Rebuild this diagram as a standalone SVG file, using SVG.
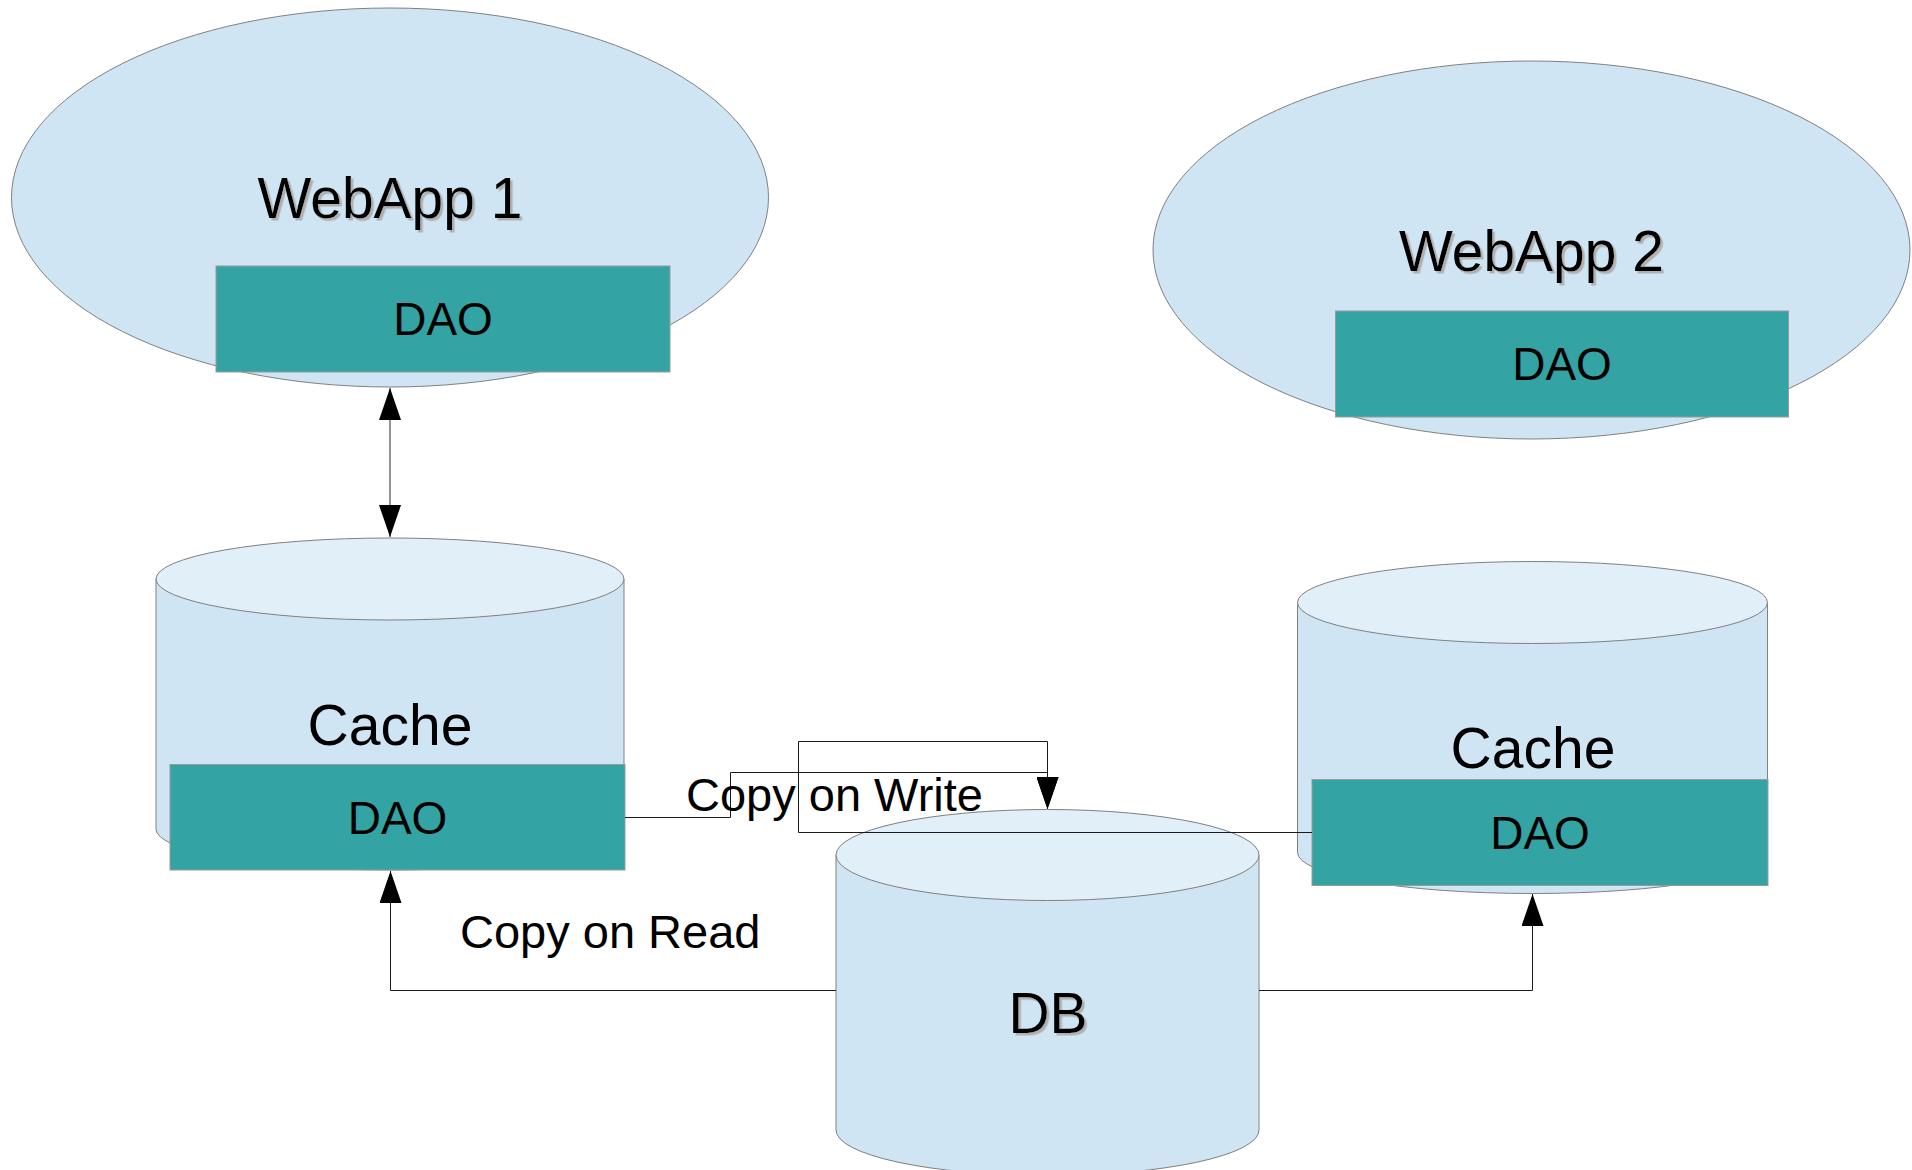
<svg xmlns="http://www.w3.org/2000/svg" width="1912" height="1170" viewBox="0 0 1912 1170">
  <defs>
    <style>
      .app { fill: #cfe5f3; stroke: #808080; stroke-width: 1; }
      .body { fill: #cfe5f3; stroke: #808080; stroke-width: 1; }
      .lid { fill: #e0eff8; stroke: #808080; stroke-width: 1; }
      .dao { fill: #33a3a3; stroke: #9a9a9a; stroke-width: 1; }
      .big { font-family: "Liberation Sans", Arial, sans-serif; font-size: 57px; fill: #000; text-anchor: middle; }
      .lbl { font-family: "Liberation Sans", Arial, sans-serif; font-size: 46px; fill: #000; text-anchor: middle; }
      .note { font-family: "Liberation Sans", Arial, sans-serif; font-size: 47px; fill: #000; }
      .wire { fill: none; stroke: #1a1a1a; stroke-width: 1; }
      .wire-grey { fill: none; stroke: #707070; stroke-width: 1.5; }
      .shadowed { filter: url(#shadow); }
    </style>
    <marker id="arrow" markerUnits="userSpaceOnUse" markerWidth="32" markerHeight="22" refX="32" refY="11" orient="auto-start-reverse">
      <path d="M0,0 L32,11 L0,22 z" fill="#000"/>
    </marker>
    <filter id="shadow" x="-10%" y="-10%" width="130%" height="130%">
      <feDropShadow dx="2.5" dy="2.5" stdDeviation="0.4" flood-color="#b0b0b0" flood-opacity="1"/>
    </filter>
  </defs>

  <rect width="1912" height="1170" fill="#ffffff"/>

  <!-- Web application 1 -->
  <g id="webapp1">
    <ellipse class="app" cx="390" cy="197.5" rx="378.5" ry="189.5"/>
    <text class="big shadowed" x="390" y="218">WebApp 1</text>
    <rect class="dao" x="216" y="266" width="454" height="106"/>
    <text class="lbl" x="443" y="335">DAO</text>
  </g>

  <!-- Web application 2 -->
  <g id="webapp2">
    <ellipse class="app" cx="1531.5" cy="250" rx="378.5" ry="189"/>
    <text class="big shadowed" x="1531.5" y="271">WebApp 2</text>
    <rect class="dao" x="1335.5" y="311" width="453" height="106"/>
    <text class="lbl" x="1562" y="380">DAO</text>
  </g>

  <!-- Cache of WebApp 1 -->
  <g id="cache1">
    <path class="body" d="M156,579 V829 A234,41 0 0 0 624,829 V579 Z"/>
    <ellipse class="lid" cx="390" cy="579" rx="234" ry="41"/>
    <text class="big" x="390" y="745">Cache</text>
    <rect class="dao" x="170" y="764.5" width="455" height="105.5"/>
    <text class="lbl" x="397.5" y="834">DAO</text>
  </g>

  <!-- Cache of WebApp 2 -->
  <g id="cache2">
    <path class="body" d="M1297.5,602.5 V852.5 A235,41 0 0 0 1767.5,852.5 V602.5 Z"/>
    <ellipse class="lid" cx="1532.5" cy="602.5" rx="235" ry="41"/>
    <text class="big" x="1533" y="768">Cache</text>
    <rect class="dao" x="1312" y="779.5" width="456" height="106"/>
    <text class="lbl" x="1540" y="849">DAO</text>
  </g>

  <!-- Shared database -->
  <g id="db">
    <path class="body" d="M836,855 V1130 A211.5,45.5 0 0 0 1259,1130 V855 Z"/>
    <ellipse class="lid" cx="1047.5" cy="855" rx="211.5" ry="45.5"/>
    <text class="big shadowed" x="1048" y="1033">DB</text>
  </g>

  <!-- Connectors -->
  <g id="connectors">
    <path class="wire-grey" d="M390,388 V537" marker-start="url(#arrow)" marker-end="url(#arrow)"/>
    <path class="wire" d="M625,817.5 H730.5 V772.5 H1047.5 V809" marker-end="url(#arrow)"/>
    <path class="wire" d="M1312,832.5 H798.5 V741.5 H1047.5 V809" marker-end="url(#arrow)"/>
    <path class="wire" d="M836,990.5 H390.5 V871" marker-end="url(#arrow)"/>
    <path class="wire" d="M1259,990.5 H1532.5 V894" marker-end="url(#arrow)"/>
    <text class="note" x="686" y="811">Copy on Write</text>
    <text class="note" x="460" y="948">Copy on Read</text>
  </g>
</svg>
